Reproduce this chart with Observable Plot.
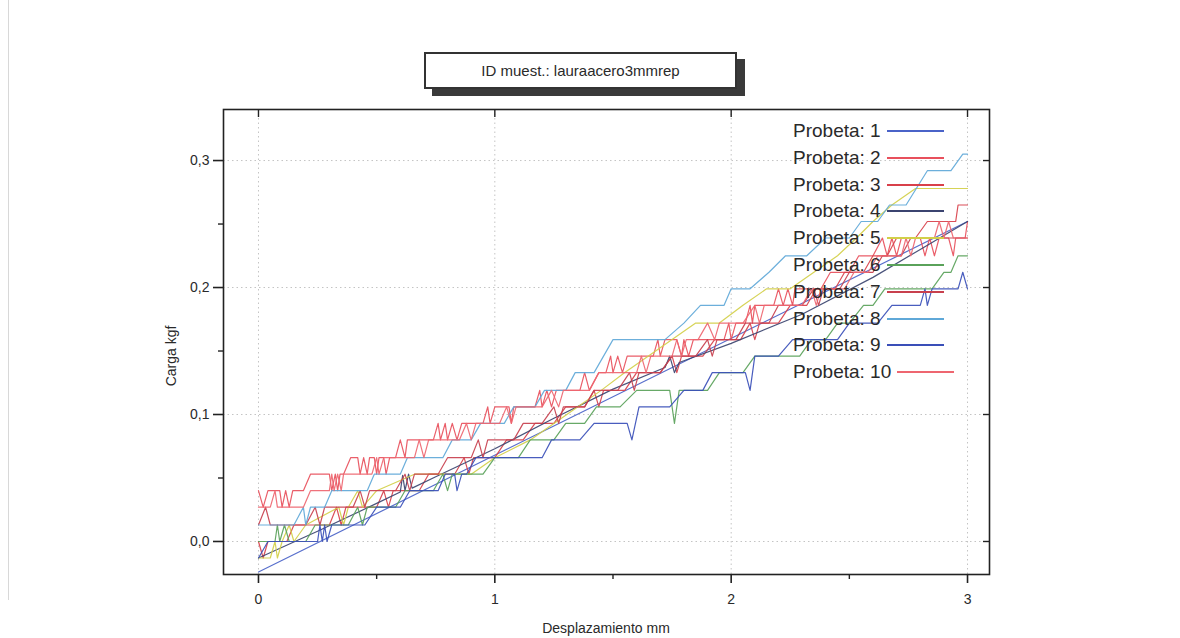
<!DOCTYPE html>
<html><head><meta charset="utf-8">
<script src="https://cdn.jsdelivr.net/npm/d3@7"></script>
<script src="https://cdn.jsdelivr.net/npm/@observablehq/plot@0.6"></script>
<style>
body{margin:0;background:#fff;font-family:"Liberation Sans",Arial,sans-serif;}
#wrap{position:relative;width:1180px;height:638px;overflow:hidden;background:#fff;}
#wrap svg{position:absolute;left:0;top:0;}
.ov{position:absolute;color:#2a2a2a;white-space:nowrap;}
#scanline{position:absolute;left:8px;top:0;width:1px;height:600px;background:#d8d8d8;}
#tshadow{position:absolute;left:432px;top:59px;width:313px;height:37px;background:#3a3a3a;}
#tbox{position:absolute;left:424px;top:52px;width:309px;height:33px;background:#fff;border:2px solid #333;
  display:flex;align-items:center;justify-content:center;font-size:15px;color:#2a2a2a;}
#ylab{left:171px;top:356px;transform:translate(-50%,-50%) rotate(-90deg);font-size:14px;}
#xlab{left:606px;top:628px;transform:translate(-50%,-50%);font-size:14px;}
.lg{position:absolute;left:793px;height:26px;font-size:19px;color:#2a2a2a;display:flex;align-items:center;}
.lg span.sw{display:inline-block;width:57px;height:1.5px;margin-left:6px;}
</style></head><body><div id="wrap"></div>
<script>
// ---- data ----
const xTicks = [0, 1, 2, 3];
const xMinor = [0.5, 1.5, 2.5];
const yTicks = [0, 0.1, 0.2, 0.3];
const yMinor = [0.05, 0.15, 0.25];
const titleText = "ID muest.: lauraacero3mmrep";
const xTitle = "Desplazamiento mm";
const yTitle = "Carga kgf";
const seriesNames = ["Probeta: 1","Probeta: 2","Probeta: 3","Probeta: 4","Probeta: 5","Probeta: 6","Probeta: 7","Probeta: 8","Probeta: 9","Probeta: 10"];
const seriesColors = ["#4a63c8","#e8505c","#d8404a","#3b4470","#d2cf48","#5aa25a","#c8404e","#5fa8d8","#3a4fb8","#ee6670"];

const probeta1 = [[0,-0.024],[3,0.252]];
const probeta2 = [[0,0.040],[0.02,0.027],[0.04,0.040],[0.09,0.040],[0.1,0.027],[0.115,0.040],[0.13,0.027],[0.145,0.040],[0.19,0.040],[0.22,0.053],[0.3,0.053],[0.31,0.040],[0.325,0.053],[0.335,0.040],[0.345,0.053],[0.36,0.053],[0.39,0.066],[0.42,0.066],[0.43,0.053],[0.445,0.066],[0.46,0.053],[0.47,0.066],[0.49,0.066],[0.5,0.053],[0.51,0.066],[0.53,0.066],[0.54,0.053],[0.555,0.066],[0.58,0.066],[0.6,0.080],[0.62,0.066],[0.63,0.080],[0.74,0.080],[0.76,0.093],[0.77,0.080],[0.79,0.093],[0.8,0.080],[0.82,0.093],[0.84,0.080],[0.86,0.093],[0.95,0.093],[0.97,0.106],[0.98,0.093],[1.0,0.106],[1.06,0.106],[1.07,0.093],[1.08,0.106],[1.17,0.106],[1.19,0.119],[1.2,0.106],[1.22,0.119],[1.24,0.106],[1.26,0.119],[1.36,0.119],[1.38,0.133],[1.4,0.119],[1.44,0.133],[1.47,0.133],[1.49,0.146],[1.5,0.133],[1.52,0.146],[1.54,0.133],[1.56,0.146],[1.67,0.146],[1.69,0.159],[1.7,0.146],[1.72,0.159],[1.77,0.159],[1.79,0.146],[1.8,0.159],[1.82,0.146],[1.84,0.159],[1.97,0.159],[1.99,0.172],[2.0,0.159],[2.02,0.172],[2.06,0.172],[2.08,0.186],[2.09,0.172],[2.1,0.186],[2.18,0.186],[2.2,0.199],[2.22,0.186],[2.24,0.199],[2.26,0.186],[2.27,0.199],[2.38,0.199],[2.42,0.212],[2.5,0.212],[2.54,0.225],[2.6,0.225],[2.64,0.239],[2.66,0.225],[2.68,0.239],[2.7,0.225],[2.72,0.239],[2.8,0.239],[2.82,0.225],[2.84,0.239],[2.86,0.225],[2.88,0.239],[2.92,0.239],[2.94,0.225],[2.95,0.239],[2.99,0.239],[3.0,0.252]];
const probeta3 = [[0,0],[0.02,-0.013],[0.04,0],[0.12,0],[0.15,0.013],[0.3,0.013],[0.33,0.027],[0.35,0.013],[0.37,0.027],[0.5,0.027],[0.53,0.040],[0.55,0.027],[0.57,0.040],[0.68,0.040],[0.72,0.053],[0.83,0.053],[0.87,0.066],[0.89,0.053],[0.91,0.066],[1.0,0.066],[1.05,0.080],[1.12,0.080],[1.17,0.093],[1.25,0.093],[1.3,0.106],[1.38,0.106],[1.42,0.119],[1.44,0.106],[1.46,0.119],[1.55,0.119],[1.6,0.133],[1.7,0.133],[1.75,0.146],[1.77,0.133],[1.79,0.146],[1.88,0.146],[1.93,0.159],[2.04,0.159],[2.08,0.172],[2.1,0.159],[2.12,0.172],[2.2,0.172],[2.25,0.186],[2.32,0.186],[2.36,0.199],[2.44,0.199],[2.48,0.212],[2.56,0.212],[2.6,0.225],[2.66,0.225],[2.7,0.239],[2.78,0.239],[2.83,0.252],[2.95,0.252],[2.96,0.265],[3.0,0.265]];
const probeta4 = [[0,-0.013],[0.25,0.008],[0.5,0.030],[0.6,0.039],[0.61,0.052],[0.62,0.040],[0.635,0.053],[0.65,0.042],[0.75,0.051],[1.0,0.073],[1.25,0.097],[1.5,0.120],[1.72,0.137],[1.74,0.146],[1.76,0.133],[1.78,0.141],[2.0,0.156],[2.3,0.179],[2.6,0.208],[2.8,0.230],[3.0,0.252]];
const probeta5 = [[0,-0.013],[0.05,-0.013],[0.07,0],[0.08,-0.013],[0.1,0],[0.13,0.013],[0.15,0],[0.2,0.013],[0.34,0.027],[0.36,0.013],[0.38,0.027],[0.42,0.040],[0.44,0.027],[0.5,0.040],[0.66,0.053],[0.9,0.053],[1.0,0.066],[1.15,0.080],[1.25,0.093],[1.35,0.106],[1.45,0.119],[1.55,0.133],[1.65,0.146],[1.75,0.159],[1.85,0.172],[1.95,0.172],[2.05,0.186],[2.15,0.199],[2.25,0.199],[2.35,0.212],[2.45,0.225],[2.53,0.239],[2.6,0.252],[2.68,0.265],[2.78,0.278],[3.0,0.278]];
const probeta6 = [[0,0],[0.07,0],[0.08,0.013],[0.09,0],[0.11,0.013],[0.13,0],[0.2,0],[0.24,0.013],[0.38,0.013],[0.42,0.027],[0.44,0.013],[0.46,0.027],[0.58,0.027],[0.62,0.040],[0.74,0.040],[0.78,0.053],[0.8,0.040],[0.82,0.053],[0.95,0.053],[1.0,0.066],[1.1,0.066],[1.15,0.080],[1.25,0.080],[1.3,0.093],[1.38,0.093],[1.43,0.106],[1.53,0.106],[1.6,0.119],[1.74,0.119],[1.76,0.093],[1.78,0.119],[1.9,0.119],[1.95,0.133],[2.05,0.133],[2.1,0.146],[2.29,0.146],[2.34,0.159],[2.4,0.159],[2.45,0.172],[2.5,0.172],[2.56,0.186],[2.6,0.186],[2.65,0.199],[2.85,0.199],[2.9,0.212],[2.93,0.212],[2.96,0.225],[3.0,0.225]];
const probeta7 = [[0,0.013],[0.03,0.027],[0.05,0.013],[0.2,0.013],[0.24,0.027],[0.26,0.013],[0.28,0.027],[0.4,0.027],[0.43,0.040],[0.45,0.027],[0.47,0.040],[0.58,0.040],[0.62,0.053],[0.64,0.040],[0.66,0.053],[0.76,0.053],[0.8,0.066],[0.9,0.066],[0.93,0.080],[0.95,0.066],[0.97,0.080],[1.08,0.080],[1.12,0.093],[1.2,0.093],[1.25,0.106],[1.27,0.093],[1.29,0.106],[1.38,0.106],[1.42,0.119],[1.52,0.119],[1.57,0.133],[1.59,0.119],[1.61,0.133],[1.7,0.133],[1.75,0.146],[1.85,0.146],[1.9,0.159],[1.92,0.146],[1.94,0.159],[2.02,0.159],[2.06,0.172],[2.16,0.172],[2.2,0.186],[2.3,0.186],[2.35,0.199],[2.37,0.186],[2.39,0.199],[2.46,0.199],[2.5,0.212],[2.6,0.212],[2.64,0.225],[2.72,0.225],[2.76,0.239],[3.0,0.239]];
const probeta8 = [[0,0.013],[0.15,0.013],[0.19,0.027],[0.2,0.013],[0.22,0.027],[0.28,0.027],[0.31,0.040],[0.46,0.040],[0.49,0.053],[0.6,0.053],[0.63,0.066],[0.78,0.066],[0.82,0.080],[0.9,0.080],[0.94,0.093],[1.04,0.093],[1.08,0.106],[1.17,0.106],[1.21,0.119],[1.3,0.119],[1.34,0.133],[1.42,0.133],[1.5,0.159],[1.72,0.159],[1.8,0.172],[1.87,0.186],[1.97,0.186],[2.0,0.199],[2.08,0.199],[2.16,0.212],[2.23,0.225],[2.32,0.225],[2.4,0.239],[2.5,0.239],[2.55,0.252],[2.62,0.252],[2.67,0.265],[2.74,0.265],[2.83,0.292],[2.93,0.292],[2.98,0.305],[3.0,0.305]];
const probeta9 = [[0,-0.013],[0.04,0],[0.25,0],[0.26,0.013],[0.27,0],[0.28,0.013],[0.29,0],[0.31,0.013],[0.45,0.013],[0.5,0.027],[0.6,0.027],[0.64,0.040],[0.76,0.040],[0.79,0.053],[0.83,0.053],[0.84,0.040],[0.86,0.053],[0.88,0.053],[0.92,0.066],[1.2,0.066],[1.24,0.080],[1.36,0.080],[1.42,0.093],[1.56,0.093],[1.58,0.080],[1.61,0.106],[1.74,0.106],[1.8,0.119],[1.88,0.119],[1.92,0.133],[2.06,0.133],[2.08,0.119],[2.1,0.146],[2.2,0.146],[2.26,0.159],[2.45,0.159],[2.5,0.172],[2.62,0.172],[2.68,0.186],[2.8,0.186],[2.82,0.199],[2.83,0.186],[2.85,0.199],[2.96,0.199],[2.98,0.212],[3.0,0.199]];
const probeta10 = [[0,0.027],[0.05,0.027],[0.07,0.040],[0.08,0.027],[0.19,0.027],[0.22,0.040],[0.3,0.040],[0.31,0.053],[0.32,0.040],[0.335,0.053],[0.35,0.040],[0.36,0.053],[0.48,0.053],[0.5,0.066],[0.51,0.053],[0.53,0.066],[0.66,0.066],[0.68,0.080],[0.7,0.066],[0.72,0.080],[0.85,0.080],[0.88,0.093],[0.9,0.080],[0.92,0.093],[1.02,0.093],[1.05,0.106],[1.07,0.093],[1.09,0.106],[1.2,0.106],[1.24,0.119],[1.27,0.106],[1.29,0.119],[1.4,0.119],[1.44,0.133],[1.6,0.133],[1.62,0.146],[1.64,0.133],[1.66,0.146],[1.75,0.146],[1.77,0.159],[1.79,0.146],[1.81,0.159],[1.86,0.159],[1.9,0.172],[1.93,0.159],[1.95,0.172],[2.05,0.172],[2.1,0.186],[2.12,0.172],[2.14,0.186],[2.3,0.186],[2.34,0.199],[2.36,0.186],[2.38,0.199],[2.48,0.199],[2.52,0.212],[2.58,0.212],[2.62,0.225],[2.72,0.225],[2.74,0.239],[2.76,0.225],[2.78,0.239],[2.86,0.239],[2.88,0.252],[2.9,0.239],[2.92,0.252],[2.94,0.239],[3.0,0.239]];

const allSeries = [probeta1, probeta2, probeta3, probeta4, probeta5, probeta6, probeta7, probeta8, probeta9, probeta10];
const table = allSeries.flatMap((pts, i) => pts.map(([x, y]) => ({probeta: seriesNames[i], x, y})));

const comma = d => d.toFixed(1).replace(".", ",");
const blank = () => "";

const chart = Plot.plot({
  width: 1180, height: 638,
  marginLeft: 223, marginRight: 191, marginTop: 109, marginBottom: 64,
  style: {fontFamily: "'Liberation Sans', Arial, sans-serif", fontSize: "14px", color: "#2a2a2a", background: "transparent"},
  x: {domain: [-0.148, 3.093]},
  y: {domain: [-0.026, 0.3402]},
  color: {domain: seriesNames, range: seriesColors},
  marks: [
    Plot.gridX(xTicks, {stroke: "#c4c4c4", strokeOpacity: 1, strokeDasharray: "1.5,3"}),
    Plot.gridY(yTicks, {stroke: "#c4c4c4", strokeOpacity: 1, strokeDasharray: "1.5,3"}),
    Plot.line(table, {x: "x", y: "y", z: "probeta", stroke: "probeta", strokeWidth: 1.2, strokeOpacity: 0.92}),
    Plot.frame({stroke: "#222", strokeWidth: 1.6}),
    Plot.axisX(xTicks, {anchor: "bottom", tickSize: 9, tickPadding: 11, tickFormat: d => String(d), label: null, stroke: "#222", strokeWidth: 1.6}),
    Plot.axisX(xMinor, {anchor: "bottom", tickSize: 5, tickFormat: blank, label: null, stroke: "#222", strokeWidth: 1.4}),
    Plot.axisX(xTicks, {anchor: "top", tickSize: -7, tickFormat: blank, label: null, stroke: "#222", strokeWidth: 1.4}),
    Plot.axisY(yTicks, {anchor: "left", tickSize: 10, tickPadding: 4, tickFormat: comma, label: null, stroke: "#222", strokeWidth: 1.6}),
    Plot.axisY(yMinor, {anchor: "left", tickSize: 5, tickFormat: blank, label: null, stroke: "#222", strokeWidth: 1.4}),
    Plot.axisY(yTicks, {anchor: "right", tickSize: -7, tickFormat: blank, label: null, stroke: "#222", strokeWidth: 1.4})
  ]
});

const wrap = document.getElementById("wrap");
const addDiv = (cls, id, text) => { const d = document.createElement("div"); if (cls) d.className = cls; if (id) d.id = id; if (text != null) d.textContent = text; wrap.appendChild(d); return d; };
addDiv(null, "scanline");
wrap.appendChild(chart);
addDiv(null, "tshadow");
addDiv(null, "tbox", titleText);
addDiv("ov", "ylab", yTitle);
addDiv("ov", "xlab", xTitle);
seriesNames.forEach((name, i) => {
  const row = addDiv("lg", null);
  row.style.top = Math.round(118 + i * 26.8) + "px";
  const t = document.createElement("span"); t.textContent = name; row.appendChild(t);
  const s = document.createElement("span"); s.className = "sw"; s.style.background = seriesColors[i]; row.appendChild(s);
});
</script></body></html>
